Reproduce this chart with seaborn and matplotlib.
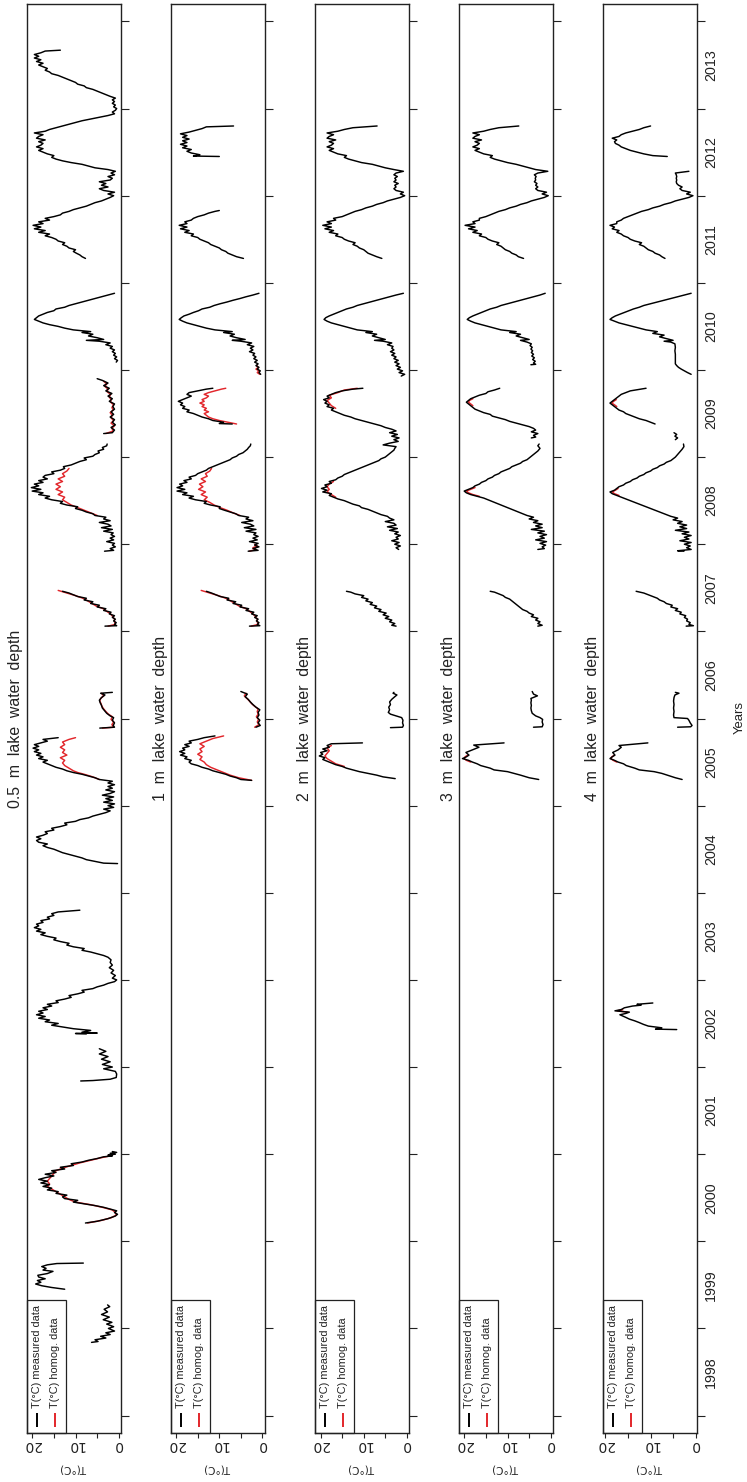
import numpy as np
import pandas as pd
import matplotlib
matplotlib.use("Agg")
import matplotlib.pyplot as plt
import seaborn as sns
from matplotlib import font_manager
from matplotlib.patches import Rectangle

# ---------------------------------------------------------------- labels
depth_titles = ["0.5  m  lake  water  depth", "1  m  lake  water  depth",
                "2  m  lake  water  depth", "3  m  lake  water  depth",
                "4  m  lake  water  depth"]
year_ticks = list(range(1998, 2015))
year_labels = [str(y) for y in range(1998, 2014)]
temp_ticks = [0, 5, 10, 15, 20]
temp_labels = ["0", "", "10", "", "20"]
series_names = ["T(°C) measured data", "T(°C) homog. data"]

# ---------------------------------------------------------------- 0.5 m
meas_05 = [
    [(1998.84, 6.3), (1998.85, 4.8), (1998.87, 5.5), (1998.89, 3.0), (1998.91, 4.2), (1998.93, 2.0),
     (1998.95, 3.0), (1998.97, 1.0), (1999.00, 2.4), (1999.02, 1.2), (1999.05, 2.8), (1999.07, 1.6),
     (1999.10, 3.6), (1999.13, 2.2), (1999.16, 4.0), (1999.19, 2.6), (1999.22, 3.4), (1999.25, 2.1),
     (1999.27, 2.6)],
    [(1999.45, 12.5), (1999.47, 15.5), (1999.49, 17.8), (1999.51, 19.2), (1999.53, 18.0), (1999.55, 18.8),
     (1999.57, 17.0), (1999.59, 18.5), (1999.61, 18.7), (1999.63, 16.5), (1999.655, 15.2), (1999.67, 17.5),
     (1999.69, 16.8), (1999.71, 17.8), (1999.73, 16.5), (1999.745, 14.3), (1999.75, 8.2)],
    [(2000.21, 7.7), (2000.23, 5.0), (2000.26, 2.5), (2000.29, 0.8), (2000.31, 0.3), (2000.33, 1.0),
     (2000.35, 0.5), (2000.37, 2.0), (2000.39, 3.5), (2000.41, 5.5), (2000.43, 8.0), (2000.45, 10.5),
     (2000.47, 9.5), (2000.49, 12.5), (2000.51, 13.0), (2000.53, 12.0), (2000.55, 14.5), (2000.57, 14.0),
     (2000.59, 16.5), (2000.61, 15.5), (2000.63, 17.5), (2000.65, 16.0), (2000.67, 18.0), (2000.69, 16.5),
     (2000.71, 18.5), (2000.73, 17.0), (2000.75, 15.0), (2000.77, 17.0), (2000.79, 14.5), (2000.81, 15.5),
     (2000.83, 12.5), (2000.85, 13.5), (2000.87, 10.5), (2000.89, 11.0), (2000.91, 8.5), (2000.93, 7.0),
     (2000.95, 5.0), (2000.97, 3.5), (2000.98, 1.5), (2000.99, 2.5), (2001.00, 0.8), (2001.01, 2.0),
     (2001.02, 0.5), (2001.03, 1.5)],
    [(2001.84, 8.8), (2001.845, 6.0), (2001.86, 2.0), (2001.88, 0.6), (2001.92, 0.5), (2001.95, 0.8),
     (2001.98, 3.5), (2002.00, 1.5), (2002.03, 3.8), (2002.06, 2.0), (2002.09, 4.0), (2002.12, 2.5),
     (2002.15, 4.5), (2002.18, 3.0), (2002.21, 4.5)],
    [(2002.38, 7.5), (2002.385, 10.0), (2002.39, 5.0), (2002.40, 8.5), (2002.42, 6.5), (2002.44, 10.5),
     (2002.46, 13.0), (2002.48, 15.5), (2002.50, 14.0), (2002.52, 17.0), (2002.54, 16.0), (2002.56, 18.5),
     (2002.58, 17.0), (2002.60, 19.0), (2002.62, 17.5), (2002.64, 18.5), (2002.66, 16.5), (2002.68, 17.5),
     (2002.70, 15.5), (2002.72, 16.5), (2002.74, 14.0), (2002.76, 14.5), (2002.78, 12.5), (2002.80, 11.0),
     (2002.82, 11.5), (2002.84, 9.5), (2002.86, 8.0), (2002.88, 8.5), (2002.90, 6.0), (2002.92, 5.0),
     (2002.94, 3.5), (2002.96, 2.5), (2002.98, 1.0), (2003.00, 0.5), (2003.02, 1.5), (2003.05, 0.8),
     (2003.08, 1.8), (2003.11, 1.2), (2003.14, 2.2), (2003.17, 1.5), (2003.20, 2.0), (2003.23, 1.8),
     (2003.26, 2.5), (2003.28, 3.5), (2003.30, 5.0), (2003.32, 6.5), (2003.34, 8.5), (2003.36, 8.0),
     (2003.38, 10.5), (2003.40, 12.0), (2003.42, 11.5), (2003.44, 13.5), (2003.46, 15.0), (2003.48, 14.5),
     (2003.50, 16.5), (2003.52, 18.0), (2003.54, 17.0), (2003.56, 19.0), (2003.58, 18.0), (2003.60, 19.5),
     (2003.62, 18.5), (2003.64, 19.0), (2003.66, 17.5), (2003.68, 18.0), (2003.70, 16.0), (2003.72, 16.5),
     (2003.74, 15.0), (2003.76, 15.5), (2003.78, 14.0), (2003.80, 9.0)],
    [(2004.335, 0.3), (2004.34, 3.5), (2004.36, 5.5), (2004.38, 7.5), (2004.40, 8.5), (2004.42, 10.0),
     (2004.44, 11.5), (2004.46, 13.0), (2004.48, 14.0), (2004.50, 15.0), (2004.52, 16.5), (2004.54, 17.5),
     (2004.56, 16.5), (2004.58, 18.5), (2004.60, 19.0), (2004.62, 18.0), (2004.64, 19.0), (2004.66, 17.5),
     (2004.68, 16.5), (2004.70, 17.0), (2004.72, 15.0), (2004.74, 15.5), (2004.76, 13.5), (2004.78, 12.0),
     (2004.80, 12.5), (2004.82, 10.0), (2004.84, 9.0), (2004.86, 7.0), (2004.88, 6.0), (2004.90, 4.5),
     (2004.92, 3.0), (2004.94, 2.0), (2004.96, 3.5), (2004.98, 1.2), (2005.00, 2.5), (2005.02, 1.0),
     (2005.04, 3.5), (2005.06, 1.5), (2005.08, 3.0), (2005.10, 1.2), (2005.12, 3.8), (2005.14, 2.0),
     (2005.16, 1.0), (2005.18, 3.0), (2005.20, 1.5), (2005.22, 2.5), (2005.24, 1.0), (2005.26, 2.5),
     (2005.28, 1.5), (2005.30, 4.5), (2005.32, 5.5), (2005.34, 7.0), (2005.36, 8.5), (2005.38, 10.5),
     (2005.40, 12.0), (2005.42, 13.0), (2005.44, 14.5), (2005.46, 15.5), (2005.48, 16.5), (2005.50, 17.5),
     (2005.52, 16.5), (2005.54, 18.5), (2005.56, 17.5), (2005.58, 19.0), (2005.60, 18.0), (2005.62, 19.5),
     (2005.64, 18.5), (2005.66, 19.8), (2005.68, 18.5), (2005.70, 19.5), (2005.72, 18.0), (2005.74, 16.5),
     (2005.76, 17.5), (2005.78, 14.0)],
    [(2005.89, 4.4), (2005.90, 1.0), (2005.92, 1.3), (2005.95, 1.0), (2005.98, 1.5), (2006.01, 1.2),
     (2006.03, 2.0), (2006.06, 2.8), (2006.09, 3.3), (2006.12, 3.8), (2006.15, 4.0), (2006.18, 4.3),
     (2006.21, 4.5), (2006.24, 4.0), (2006.27, 3.2), (2006.29, 4.2), (2006.30, 1.5)],
    [(2007.06, 3.2), (2007.065, 0.5), (2007.08, 1.0), (2007.10, 0.6), (2007.12, 1.2), (2007.14, 0.8),
     (2007.16, 1.5), (2007.18, 1.0), (2007.20, 2.2), (2007.22, 1.8), (2007.24, 3.5), (2007.26, 3.0),
     (2007.28, 5.0), (2007.30, 4.5), (2007.32, 6.5), (2007.34, 6.0), (2007.36, 8.0), (2007.38, 7.5),
     (2007.40, 9.5), (2007.42, 10.5), (2007.44, 11.5), (2007.46, 13.0)],
    [(2007.92, 3.3), (2007.93, 1.2), (2007.95, 2.0), (2007.97, 0.8), (2007.99, 1.5), (2008.01, 1.0),
     (2008.03, 2.8), (2008.05, 1.2), (2008.07, 2.0), (2008.09, 1.0), (2008.11, 1.8), (2008.13, 1.3),
     (2008.15, 3.5), (2008.17, 1.5), (2008.19, 4.0), (2008.21, 1.8), (2008.23, 2.5), (2008.25, 4.5),
     (2008.27, 2.0), (2008.29, 3.5), (2008.31, 3.0), (2008.33, 5.5), (2008.35, 6.0), (2008.37, 7.5),
     (2008.39, 8.5), (2008.41, 10.0), (2008.43, 9.5), (2008.45, 12.0), (2008.47, 13.5), (2008.49, 13.0),
     (2008.51, 15.5), (2008.53, 17.0), (2008.55, 16.0), (2008.57, 18.5), (2008.59, 17.5), (2008.61, 20.0),
     (2008.63, 18.0), (2008.65, 20.2), (2008.67, 18.5), (2008.69, 19.5), (2008.71, 17.5), (2008.73, 18.5),
     (2008.75, 16.5), (2008.77, 17.5), (2008.79, 17.0), (2008.81, 15.0), (2008.83, 15.5), (2008.85, 13.5),
     (2008.87, 12.5), (2008.89, 12.8), (2008.91, 11.0), (2008.93, 10.0), (2008.95, 9.0), (2008.97, 7.5),
     (2008.99, 8.0), (2009.01, 6.0), (2009.03, 5.5), (2009.05, 4.5), (2009.07, 4.8), (2009.09, 3.5),
     (2009.11, 3.8), (2009.13, 2.8), (2009.15, 2.7)],
    [(2009.27, 3.5), (2009.28, 1.5), (2009.31, 1.0), (2009.34, 1.8), (2009.37, 0.8), (2009.40, 1.5),
     (2009.43, 1.0), (2009.46, 2.0), (2009.49, 1.2), (2009.52, 1.8), (2009.55, 1.0), (2009.58, 1.4),
     (2009.61, 1.0), (2009.64, 2.2), (2009.67, 1.5), (2009.70, 2.5), (2009.73, 1.6), (2009.76, 3.0),
     (2009.79, 2.2), (2009.82, 3.5), (2009.85, 2.5), (2009.88, 3.8), (2009.90, 5.0)],
    [(2010.09, 0.6), (2010.11, 0.3), (2010.13, 1.0), (2010.15, 0.5), (2010.17, 1.2), (2010.19, 0.8),
     (2010.21, 1.5), (2010.23, 1.0), (2010.25, 2.0), (2010.27, 1.5), (2010.29, 3.0), (2010.31, 2.0),
     (2010.33, 4.5), (2010.34, 7.5), (2010.35, 3.5), (2010.37, 5.0), (2010.39, 7.0), (2010.41, 6.0),
     (2010.43, 8.5), (2010.44, 6.5), (2010.46, 10.5), (2010.48, 12.5), (2010.50, 14.0), (2010.52, 16.0),
     (2010.54, 17.5), (2010.56, 18.5), (2010.58, 19.5), (2010.60, 19.0), (2010.62, 18.5), (2010.64, 17.5),
     (2010.66, 16.5), (2010.68, 15.0), (2010.70, 14.5), (2010.72, 12.5), (2010.74, 11.5), (2010.76, 10.0),
     (2010.78, 8.5), (2010.80, 7.0), (2010.82, 5.5), (2010.84, 4.0), (2010.86, 2.5), (2010.88, 1.0)],
    [(2011.28, 7.7), (2011.30, 8.5), (2011.32, 9.0), (2011.34, 9.8), (2011.36, 10.5), (2011.38, 10.0),
     (2011.40, 11.5), (2011.42, 12.0), (2011.44, 13.0), (2011.46, 12.5), (2011.48, 14.0), (2011.50, 14.5),
     (2011.52, 15.5), (2011.54, 17.0), (2011.56, 16.0), (2011.58, 18.5), (2011.60, 17.0), (2011.62, 19.5),
     (2011.64, 18.0), (2011.66, 19.8), (2011.68, 17.5), (2011.70, 18.5), (2011.72, 16.0), (2011.74, 17.0),
     (2011.76, 15.0), (2011.78, 13.5), (2011.80, 13.0), (2011.82, 11.5), (2011.84, 10.5), (2011.86, 9.0),
     (2011.88, 7.5), (2011.90, 6.5), (2011.92, 5.5), (2011.94, 4.0), (2011.96, 3.0), (2011.98, 2.0),
     (2012.00, 1.2), (2012.02, 2.5), (2012.04, 1.0), (2012.06, 3.5), (2012.08, 4.5), (2012.10, 2.5),
     (2012.12, 4.0), (2012.14, 3.0), (2012.16, 4.5), (2012.18, 2.0), (2012.20, 1.5), (2012.22, 2.5),
     (2012.24, 1.0), (2012.26, 1.8), (2012.28, 0.8), (2012.30, 2.5), (2012.32, 5.5), (2012.34, 7.0),
     (2012.36, 8.5), (2012.38, 11.0), (2012.40, 13.0), (2012.42, 14.5), (2012.44, 15.5), (2012.46, 15.0),
     (2012.48, 16.5), (2012.50, 17.5), (2012.52, 18.5), (2012.54, 17.5), (2012.56, 19.0), (2012.58, 18.0),
     (2012.60, 17.5), (2012.62, 18.5), (2012.64, 17.0), (2012.66, 19.0), (2012.68, 18.5), (2012.70, 17.5),
     (2012.72, 19.5), (2012.74, 17.0), (2012.76, 16.0), (2012.78, 14.5), (2012.80, 13.0), (2012.82, 11.5),
     (2012.84, 10.0), (2012.86, 8.5), (2012.88, 6.5), (2012.90, 4.5), (2012.92, 2.5), (2012.94, 1.0),
     (2012.96, 1.5), (2012.98, 0.8), (2013.00, 0.5), (2013.02, 1.2), (2013.04, 0.8), (2013.06, 1.5),
     (2013.08, 1.0), (2013.10, 1.5), (2013.12, 0.8), (2013.14, 2.0), (2013.16, 3.0), (2013.18, 4.0),
     (2013.20, 5.0), (2013.22, 6.0), (2013.24, 7.5), (2013.26, 8.0), (2013.28, 9.5), (2013.30, 10.0),
     (2013.32, 11.0), (2013.34, 12.0), (2013.36, 13.0), (2013.38, 14.0), (2013.40, 15.5), (2013.42, 16.0),
     (2013.44, 17.0), (2013.46, 16.5), (2013.48, 17.5), (2013.50, 18.5), (2013.52, 17.5), (2013.54, 19.0),
     (2013.56, 18.0), (2013.58, 19.5), (2013.60, 18.5), (2013.62, 19.5), (2013.64, 18.0), (2013.66, 17.0),
     (2013.67, 13.5)],
]
homog_05 = [
    [(2000.21, 7.2), (2000.24, 4.0), (2000.27, 1.8), (2000.30, 0.6), (2000.33, 0.8), (2000.36, 1.5),
     (2000.39, 3.8), (2000.42, 6.5), (2000.45, 10.0), (2000.48, 11.5), (2000.51, 12.5), (2000.54, 13.5),
     (2000.57, 14.5), (2000.60, 15.5), (2000.63, 16.5), (2000.66, 16.0), (2000.69, 16.5), (2000.72, 16.0),
     (2000.75, 15.5), (2000.78, 15.0), (2000.81, 14.5), (2000.84, 13.0), (2000.87, 11.0), (2000.90, 9.0),
     (2000.93, 6.5), (2000.96, 4.0), (2000.98, 2.0), (2001.00, 1.2), (2001.02, 1.0)],
    [(2005.30, 4.5), (2005.33, 6.0), (2005.36, 8.0), (2005.38, 9.5), (2005.40, 10.5), (2005.43, 11.5),
     (2005.46, 12.5), (2005.49, 13.0), (2005.52, 12.5), (2005.55, 13.5), (2005.58, 12.0), (2005.61, 13.0),
     (2005.64, 12.5), (2005.67, 13.5), (2005.70, 12.5), (2005.73, 13.0), (2005.76, 11.5), (2005.78, 10.0)],
    [(2005.89, 3.8), (2005.90, 1.2), (2005.93, 1.6), (2005.96, 1.2), (2005.99, 1.8), (2006.02, 1.5),
     (2006.05, 2.4), (2006.08, 3.0), (2006.11, 3.5), (2006.14, 3.9), (2006.17, 4.1), (2006.20, 4.4),
     (2006.23, 4.2), (2006.26, 3.5), (2006.29, 4.0)],
    [(2007.06, 2.5), (2007.08, 0.8), (2007.11, 1.0), (2007.14, 1.0), (2007.17, 1.4), (2007.20, 1.9),
     (2007.23, 2.8), (2007.26, 3.6), (2007.29, 5.2), (2007.32, 6.2), (2007.35, 7.2), (2007.38, 8.3),
     (2007.41, 10.0), (2007.44, 12.0), (2007.47, 14.0)],
    [(2008.33, 5.0), (2008.36, 6.5), (2008.39, 8.0), (2008.42, 9.5), (2008.45, 11.0), (2008.48, 12.0),
     (2008.51, 13.0), (2008.54, 12.5), (2008.57, 14.0), (2008.60, 13.0), (2008.63, 14.5), (2008.66, 13.5),
     (2008.69, 14.5), (2008.72, 13.0), (2008.75, 14.0), (2008.78, 12.5), (2008.81, 13.0), (2008.84, 12.0),
     (2008.87, 11.5)],
    [(2009.27, 3.0), (2009.30, 1.3), (2009.33, 1.6), (2009.36, 1.0), (2009.39, 1.8), (2009.42, 1.2),
     (2009.45, 1.8), (2009.48, 1.5), (2009.51, 2.0), (2009.54, 1.3), (2009.57, 1.6), (2009.60, 1.2),
     (2009.63, 1.9), (2009.66, 1.8), (2009.69, 2.2), (2009.72, 1.9), (2009.75, 2.7), (2009.78, 2.5),
     (2009.81, 3.2), (2009.84, 2.8), (2009.87, 3.5)],
]

# ---------------------------------------------------------------- 1 m
meas_1 = [
    [(2005.29, 2.5), (2005.30, 5.0), (2005.32, 6.0), (2005.34, 7.5), (2005.36, 8.5), (2005.38, 10.0),
     (2005.40, 11.5), (2005.42, 12.5), (2005.44, 14.0), (2005.46, 15.0), (2005.48, 16.5), (2005.50, 17.0),
     (2005.52, 16.5), (2005.54, 18.0), (2005.56, 17.5), (2005.58, 19.0), (2005.60, 18.0), (2005.62, 19.2),
     (2005.64, 18.0), (2005.66, 18.5), (2005.68, 17.0), (2005.70, 18.0), (2005.72, 16.5), (2005.74, 17.0),
     (2005.76, 15.0), (2005.78, 13.5), (2005.80, 11.0)],
    [(2005.90, 1.5), (2005.92, 0.5), (2005.95, 1.0), (2005.98, 0.6), (2006.01, 1.2), (2006.04, 0.8),
     (2006.07, 1.0), (2006.10, 0.6), (2006.13, 1.5), (2006.16, 2.2), (2006.19, 2.8), (2006.22, 3.3),
     (2006.25, 4.0), (2006.28, 3.5), (2006.31, 5.0)],
    [(2007.06, 3.0), (2007.065, 0.6), (2007.08, 1.2), (2007.10, 0.8), (2007.12, 1.4), (2007.14, 1.0),
     (2007.16, 1.8), (2007.18, 1.2), (2007.20, 2.5), (2007.22, 2.0), (2007.24, 3.8), (2007.26, 3.2),
     (2007.28, 5.2), (2007.30, 4.8), (2007.32, 6.8), (2007.34, 6.2), (2007.36, 8.2), (2007.38, 7.8),
     (2007.40, 9.8), (2007.42, 10.8), (2007.44, 11.8), (2007.46, 13.0)],
    [(2007.92, 3.3), (2007.93, 1.0), (2007.95, 2.2), (2007.97, 0.8), (2007.99, 1.8), (2008.01, 1.0),
     (2008.03, 3.0), (2008.05, 1.2), (2008.07, 2.2), (2008.09, 1.0), (2008.11, 2.0), (2008.13, 1.5),
     (2008.15, 3.8), (2008.17, 1.5), (2008.19, 4.2), (2008.21, 2.0), (2008.23, 2.8), (2008.25, 4.8),
     (2008.27, 2.2), (2008.29, 3.8), (2008.31, 3.2), (2008.33, 5.5), (2008.35, 6.2), (2008.37, 7.5),
     (2008.39, 8.8), (2008.41, 10.0), (2008.43, 9.8), (2008.45, 12.0), (2008.47, 13.5), (2008.49, 13.0),
     (2008.51, 15.5), (2008.53, 17.0), (2008.55, 16.0), (2008.57, 18.5), (2008.59, 17.5), (2008.61, 19.8),
     (2008.63, 18.0), (2008.65, 19.8), (2008.67, 18.5), (2008.69, 19.2), (2008.71, 17.5), (2008.73, 18.2),
     (2008.75, 16.5), (2008.77, 17.0), (2008.79, 15.5), (2008.81, 15.0), (2008.83, 14.0), (2008.85, 13.0),
     (2008.87, 12.5), (2008.89, 11.5), (2008.91, 10.5), (2008.93, 9.5), (2008.95, 8.5), (2008.97, 7.5),
     (2008.99, 7.0), (2009.01, 6.0), (2009.03, 5.5), (2009.05, 4.5), (2009.07, 4.0), (2009.09, 3.5),
     (2009.11, 3.2), (2009.13, 2.8), (2009.15, 2.7)],
    [(2009.38, 7.0), (2009.385, 10.0), (2009.40, 9.0), (2009.42, 11.5), (2009.44, 12.5), (2009.46, 14.0),
     (2009.48, 15.0), (2009.50, 16.0), (2009.52, 17.5), (2009.54, 17.0), (2009.56, 18.5), (2009.58, 18.0),
     (2009.60, 19.0), (2009.62, 18.5), (2009.64, 19.5), (2009.66, 18.5), (2009.68, 17.5), (2009.70, 16.5),
     (2009.72, 17.5), (2009.74, 17.0), (2009.76, 15.0), (2009.78, 13.0), (2009.79, 11.5)],
    [(2009.95, 0.4), (2009.97, 0.8), (2009.99, 0.5), (2010.01, 1.2), (2010.03, 0.8), (2010.05, 1.5),
     (2010.07, 1.0), (2010.09, 1.8), (2010.11, 1.2), (2010.13, 2.0), (2010.15, 1.5), (2010.17, 2.2),
     (2010.19, 1.8), (2010.21, 3.0), (2010.23, 2.2), (2010.25, 2.8), (2010.27, 2.0), (2010.29, 3.5),
     (2010.31, 2.5), (2010.33, 5.0), (2010.34, 7.0), (2010.35, 4.0), (2010.37, 6.0), (2010.39, 7.5),
     (2010.41, 6.5), (2010.43, 9.0), (2010.44, 7.0), (2010.46, 11.0), (2010.48, 13.0), (2010.50, 14.5),
     (2010.52, 16.0), (2010.54, 17.5), (2010.56, 18.5), (2010.58, 19.3), (2010.60, 18.8), (2010.62, 18.2),
     (2010.64, 17.0), (2010.66, 16.0), (2010.68, 14.8), (2010.70, 14.0), (2010.72, 12.2), (2010.74, 11.2),
     (2010.76, 9.8), (2010.78, 8.2), (2010.80, 6.8), (2010.82, 5.2), (2010.84, 3.8), (2010.86, 2.2),
     (2010.88, 0.8)],
    [(2011.28, 4.4), (2011.30, 6.0), (2011.32, 7.0), (2011.34, 8.0), (2011.36, 8.5), (2011.38, 9.5),
     (2011.40, 10.0), (2011.42, 11.0), (2011.44, 12.0), (2011.46, 12.5), (2011.48, 13.5), (2011.50, 14.5),
     (2011.52, 15.0), (2011.54, 16.5), (2011.56, 16.0), (2011.58, 18.0), (2011.60, 17.0), (2011.62, 19.0),
     (2011.64, 17.5), (2011.66, 19.3), (2011.68, 17.5), (2011.70, 18.0), (2011.72, 16.5), (2011.74, 16.0),
     (2011.76, 15.0), (2011.78, 13.5), (2011.80, 12.5), (2011.82, 11.0), (2011.83, 10.0)],
    [(2012.45, 10.0), (2012.455, 16.0), (2012.47, 14.5), (2012.49, 16.5), (2012.51, 17.5), (2012.53, 16.5),
     (2012.55, 18.5), (2012.57, 17.5), (2012.59, 19.0), (2012.61, 17.5), (2012.63, 18.5), (2012.65, 17.0),
     (2012.67, 18.5), (2012.69, 17.5), (2012.71, 19.0), (2012.73, 17.0), (2012.75, 15.5), (2012.77, 14.0),
     (2012.79, 13.0), (2012.80, 6.7)],
]
homog_1 = [
    [(2005.29, 2.5), (2005.32, 5.5), (2005.35, 7.5), (2005.38, 9.0), (2005.41, 10.5), (2005.44, 12.0),
     (2005.47, 13.0), (2005.50, 13.5), (2005.53, 14.5), (2005.56, 14.0), (2005.59, 15.0), (2005.62, 14.0),
     (2005.65, 14.5), (2005.68, 13.5), (2005.71, 14.5), (2005.74, 13.0), (2005.77, 11.5), (2005.80, 9.0)],
    [(2005.90, 1.8), (2005.93, 0.8), (2005.96, 1.2), (2005.99, 0.9), (2006.02, 1.4), (2006.05, 1.0),
     (2006.08, 1.2), (2006.11, 1.0), (2006.14, 1.8), (2006.17, 2.5), (2006.20, 3.0), (2006.23, 3.6),
     (2006.26, 4.2), (2006.29, 3.8)],
    [(2007.06, 2.6), (2007.08, 1.0), (2007.11, 1.2), (2007.14, 1.2), (2007.17, 1.6), (2007.20, 2.2),
     (2007.23, 3.0), (2007.26, 3.8), (2007.29, 5.4), (2007.32, 6.4), (2007.35, 7.4), (2007.38, 8.5),
     (2007.41, 10.2), (2007.44, 12.2), (2007.47, 14.2)],
    [(2007.92, 3.0), (2007.94, 1.5), (2007.96, 2.2), (2007.98, 1.2), (2008.00, 1.8)],
    [(2008.33, 5.2), (2008.36, 6.8), (2008.39, 8.2), (2008.42, 9.8), (2008.45, 11.2), (2008.48, 12.2),
     (2008.51, 13.5), (2008.54, 12.8), (2008.57, 14.2), (2008.60, 13.2), (2008.63, 14.8), (2008.66, 13.8),
     (2008.69, 14.6), (2008.72, 13.2), (2008.75, 14.2), (2008.78, 12.8), (2008.81, 13.2), (2008.84, 12.2),
     (2008.87, 11.8)],
    [(2009.38, 6.0), (2009.40, 8.0), (2009.42, 10.0), (2009.44, 11.5), (2009.46, 12.5), (2009.48, 13.0),
     (2009.50, 13.5), (2009.52, 12.5), (2009.54, 13.5), (2009.56, 13.0), (2009.58, 14.0), (2009.60, 13.5),
     (2009.62, 14.5), (2009.64, 13.5), (2009.66, 14.0), (2009.68, 13.0), (2009.70, 12.5), (2009.72, 13.5),
     (2009.74, 12.5), (2009.76, 11.0), (2009.78, 9.5), (2009.79, 8.5)],
    [(2009.95, 0.6), (2009.97, 1.2), (2009.99, 0.8), (2010.01, 1.5), (2010.03, 1.0), (2010.05, 1.3)],
]

# ---------------------------------------------------------------- 2 m
meas_2 = [
    [(2005.31, 2.7), (2005.33, 5.5), (2005.35, 7.0), (2005.37, 9.0), (2005.39, 11.0), (2005.41, 12.5),
     (2005.43, 14.0), (2005.45, 15.0), (2005.47, 16.5), (2005.49, 17.5), (2005.51, 18.5), (2005.53, 19.5),
     (2005.55, 19.0), (2005.57, 20.3), (2005.59, 19.5), (2005.61, 20.0), (2005.63, 18.5), (2005.65, 19.5),
     (2005.67, 18.0), (2005.69, 18.5), (2005.71, 17.5), (2005.72, 10.3)],
    [(2005.895, 3.8), (2005.90, 1.0), (2005.92, 0.8), (2005.95, 1.0), (2005.98, 0.9), (2006.01, 1.2),
     (2006.03, 2.5), (2006.05, 3.8), (2006.07, 4.3), (2006.10, 4.0), (2006.13, 4.2), (2006.16, 3.8),
     (2006.19, 4.0), (2006.22, 3.5), (2006.25, 2.8), (2006.27, 2.3), (2006.29, 3.2), (2006.30, 3.0)],
    [(2007.06, 2.5), (2007.07, 3.5), (2007.09, 2.8), (2007.11, 4.0), (2007.13, 3.5), (2007.15, 5.0),
     (2007.17, 4.2), (2007.19, 5.5), (2007.21, 4.8), (2007.23, 6.5), (2007.25, 6.0), (2007.27, 7.5),
     (2007.29, 7.0), (2007.31, 8.5), (2007.33, 8.0), (2007.35, 9.5), (2007.37, 9.0), (2007.39, 10.5),
     (2007.41, 10.0), (2007.43, 12.0), (2007.45, 13.0), (2007.46, 14.0)],
    [(2007.94, 1.9), (2007.96, 2.5), (2007.98, 1.5), (2008.00, 2.8), (2008.02, 1.8), (2008.04, 3.5),
     (2008.06, 2.0), (2008.08, 2.5), (2008.10, 1.5), (2008.12, 2.8), (2008.14, 2.0), (2008.16, 4.0),
     (2008.18, 2.2), (2008.20, 4.5), (2008.22, 2.5), (2008.24, 3.0), (2008.26, 5.0), (2008.28, 3.0),
     (2008.30, 4.0), (2008.32, 4.5), (2008.34, 6.0), (2008.36, 7.0), (2008.38, 8.0), (2008.40, 9.0),
     (2008.42, 10.5), (2008.44, 11.0), (2008.46, 12.5), (2008.48, 13.5), (2008.50, 14.5), (2008.52, 16.0),
     (2008.54, 17.0), (2008.56, 18.0), (2008.58, 17.5), (2008.60, 19.5), (2008.62, 18.5), (2008.64, 19.8),
     (2008.66, 18.5), (2008.68, 19.0), (2008.70, 17.5), (2008.72, 18.0), (2008.74, 16.5), (2008.76, 16.0),
     (2008.78, 15.0), (2008.80, 14.5), (2008.82, 13.5), (2008.84, 12.5), (2008.86, 11.5), (2008.88, 10.5),
     (2008.90, 9.5), (2008.92, 8.5), (2008.94, 7.5), (2008.96, 6.5), (2008.98, 6.0), (2009.00, 5.0),
     (2009.02, 4.5), (2009.04, 4.0), (2009.06, 3.5), (2009.08, 3.0), (2009.10, 2.8), (2009.12, 2.5),
     (2009.14, 5.5), (2009.16, 4.0), (2009.18, 2.0), (2009.20, 3.0), (2009.22, 1.8), (2009.24, 3.5),
     (2009.26, 2.2), (2009.28, 4.0), (2009.30, 2.5), (2009.32, 3.5), (2009.34, 5.0), (2009.36, 6.0),
     (2009.38, 7.5), (2009.40, 9.0), (2009.42, 10.5), (2009.44, 12.0), (2009.46, 13.0), (2009.48, 14.5),
     (2009.50, 15.5), (2009.52, 16.5), (2009.54, 17.5), (2009.56, 17.0), (2009.58, 18.5), (2009.60, 18.0),
     (2009.62, 19.0), (2009.64, 18.5), (2009.66, 19.3), (2009.68, 18.0), (2009.70, 18.5), (2009.72, 17.5),
     (2009.74, 16.5), (2009.76, 15.0), (2009.78, 12.5), (2009.79, 10.2)],
    [(2009.93, 1.3), (2009.95, 0.5), (2009.97, 1.8), (2009.99, 1.0), (2010.01, 2.2), (2010.03, 1.5),
     (2010.05, 2.5), (2010.07, 1.8), (2010.09, 2.8), (2010.11, 2.0), (2010.13, 3.0), (2010.15, 2.5),
     (2010.17, 3.5), (2010.19, 2.8), (2010.21, 3.8), (2010.23, 3.0), (2010.25, 3.5), (2010.27, 3.2),
     (2010.29, 4.5), (2010.31, 3.5), (2010.33, 5.5), (2010.34, 7.5), (2010.35, 5.0), (2010.37, 6.5),
     (2010.39, 8.0), (2010.41, 7.0), (2010.43, 9.5), (2010.44, 8.0), (2010.46, 11.5), (2010.48, 13.0),
     (2010.50, 14.5), (2010.52, 16.0), (2010.54, 17.5), (2010.56, 18.5), (2010.58, 19.2), (2010.60, 18.8),
     (2010.62, 18.0), (2010.64, 17.0), (2010.66, 16.0), (2010.68, 15.0), (2010.70, 14.0), (2010.72, 12.5),
     (2010.74, 11.5), (2010.76, 10.0), (2010.78, 8.5), (2010.80, 7.0), (2010.82, 5.5), (2010.84, 4.0),
     (2010.86, 2.5), (2010.88, 0.8)],
    [(2011.28, 5.8), (2011.30, 7.0), (2011.32, 8.0), (2011.34, 9.0), (2011.36, 9.5), (2011.38, 10.0),
     (2011.40, 11.0), (2011.42, 11.5), (2011.44, 12.5), (2011.46, 12.0), (2011.48, 13.5), (2011.50, 14.5),
     (2011.52, 15.0), (2011.54, 16.5), (2011.56, 16.0), (2011.58, 18.0), (2011.60, 17.0), (2011.62, 19.0),
     (2011.64, 17.5), (2011.66, 19.5), (2011.68, 17.5), (2011.70, 18.5), (2011.72, 16.5), (2011.74, 17.0),
     (2011.76, 15.0), (2011.78, 14.0), (2011.80, 13.0), (2011.82, 12.0), (2011.84, 10.5), (2011.86, 9.5),
     (2011.88, 8.0), (2011.90, 7.0), (2011.92, 5.5), (2011.94, 4.5), (2011.96, 3.0), (2011.98, 1.5),
     (2012.00, 0.5), (2012.02, 1.5), (2012.04, 0.8), (2012.06, 2.5), (2012.08, 3.0), (2012.10, 2.5),
     (2012.12, 2.8), (2012.14, 2.0), (2012.16, 3.0), (2012.18, 2.5), (2012.20, 2.8), (2012.22, 2.2),
     (2012.24, 3.0), (2012.26, 2.5), (2012.28, 0.8), (2012.30, 3.0), (2012.32, 5.0), (2012.34, 6.5),
     (2012.36, 8.0), (2012.38, 10.5), (2012.40, 12.0), (2012.42, 13.5), (2012.44, 14.5), (2012.46, 14.0),
     (2012.48, 16.0), (2012.50, 17.0), (2012.52, 18.0), (2012.54, 17.0), (2012.56, 18.5), (2012.58, 17.5),
     (2012.60, 17.0), (2012.62, 18.0), (2012.64, 16.5), (2012.66, 18.5), (2012.68, 18.0), (2012.70, 17.0),
     (2012.72, 18.5), (2012.74, 16.0), (2012.76, 14.5), (2012.78, 12.5), (2012.80, 6.9)],
]
homog_2 = [
    [(2005.45, 14.5), (2005.48, 16.5), (2005.51, 17.5), (2005.54, 18.5), (2005.57, 19.0), (2005.60, 18.5),
     (2005.63, 18.0), (2005.66, 18.5), (2005.69, 17.5)],
    [(2008.54, 16.5), (2008.57, 17.5), (2008.60, 18.5), (2008.63, 18.0), (2008.66, 18.5), (2008.69, 18.0),
     (2008.72, 17.0)],
    [(2009.56, 16.5), (2009.59, 17.5), (2009.62, 18.0), (2009.65, 18.5), (2009.68, 17.5), (2009.71, 18.0),
     (2009.74, 16.0), (2009.77, 14.5), (2009.79, 11.5)],
]

# ---------------------------------------------------------------- 3 m
meas_3 = [
    [(2005.30, 2.8), (2005.32, 5.0), (2005.35, 7.0), (2005.37, 8.5), (2005.39, 10.0), (2005.41, 13.1),
     (2005.43, 14.0), (2005.46, 16.2), (2005.48, 17.0), (2005.50, 18.1), (2005.52, 19.0), (2005.54, 20.4),
     (2005.56, 19.5), (2005.58, 18.9), (2005.61, 19.6), (2005.64, 18.1), (2005.67, 16.6), (2005.695, 17.8),
     (2005.72, 10.8)],
    [(2005.90, 4.0), (2005.905, 2.0), (2005.93, 1.8), (2005.96, 2.0), (2005.99, 1.9), (2006.01, 2.5),
     (2006.03, 3.5), (2006.06, 4.3), (2006.09, 4.5), (2006.12, 4.6), (2006.15, 4.5), (2006.18, 4.6),
     (2006.21, 4.5), (2006.23, 4.6), (2006.26, 3.1), (2006.28, 4.0), (2006.31, 4.3)],
    [(2007.06, 3.0), (2007.07, 2.0), (2007.09, 3.0), (2007.11, 2.5), (2007.13, 3.5), (2007.15, 3.0),
     (2007.17, 4.5), (2007.19, 4.0), (2007.21, 5.0), (2007.23, 5.5), (2007.25, 6.5), (2007.27, 7.0),
     (2007.29, 7.5), (2007.31, 8.0), (2007.33, 8.5), (2007.35, 9.0), (2007.37, 9.5), (2007.39, 10.5),
     (2007.41, 11.0), (2007.43, 12.0), (2007.45, 13.0), (2007.46, 14.0)],
    [(2007.94, 3.0), (2007.95, 1.5), (2007.97, 2.0), (2007.99, 1.2), (2008.01, 2.5), (2008.03, 1.0),
     (2008.05, 3.5), (2008.07, 1.5), (2008.09, 2.5), (2008.11, 1.0), (2008.13, 3.0), (2008.15, 1.5),
     (2008.17, 4.5), (2008.19, 2.0), (2008.21, 3.5), (2008.23, 2.0), (2008.25, 4.0), (2008.27, 3.0),
     (2008.29, 5.0), (2008.31, 4.0), (2008.33, 5.5), (2008.35, 6.5), (2008.37, 7.5), (2008.39, 8.5),
     (2008.41, 9.5), (2008.43, 10.5), (2008.45, 11.5), (2008.47, 12.5), (2008.49, 13.5), (2008.51, 14.5),
     (2008.53, 15.5), (2008.55, 17.0), (2008.57, 18.5), (2008.59, 19.5), (2008.61, 20.0), (2008.63, 19.0),
     (2008.65, 18.0), (2008.67, 17.5), (2008.69, 16.5), (2008.71, 16.0), (2008.73, 15.0), (2008.75, 14.5),
     (2008.77, 13.5), (2008.79, 13.0), (2008.81, 12.0), (2008.83, 11.5), (2008.85, 10.5), (2008.87, 9.5),
     (2008.89, 9.0), (2008.91, 8.0), (2008.93, 7.0), (2008.95, 6.5), (2008.97, 5.5), (2008.99, 5.0),
     (2009.01, 4.5), (2009.03, 4.0), (2009.05, 3.5), (2009.07, 3.0), (2009.10, 2.5), (2009.13, 3.0),
     (2009.15, 2.7)],
    [(2009.22, 4.5), (2009.23, 3.5), (2009.25, 4.0), (2009.27, 3.0), (2009.29, 4.5), (2009.31, 3.5),
     (2009.33, 4.0), (2009.35, 5.0), (2009.37, 6.5), (2009.39, 8.0), (2009.41, 9.5), (2009.43, 10.5),
     (2009.45, 12.0), (2009.47, 13.5), (2009.49, 14.0), (2009.51, 15.5), (2009.53, 16.5), (2009.55, 17.5),
     (2009.57, 18.0), (2009.59, 18.5), (2009.61, 19.0), (2009.63, 19.5), (2009.65, 19.0), (2009.67, 18.5),
     (2009.69, 17.5), (2009.71, 16.5), (2009.73, 15.0), (2009.75, 14.5), (2009.77, 13.0), (2009.79, 11.8)],
    [(2010.06, 4.6), (2010.065, 3.5), (2010.08, 4.0), (2010.10, 3.6), (2010.12, 4.2), (2010.14, 3.8),
     (2010.16, 4.4), (2010.18, 4.0), (2010.20, 4.5), (2010.22, 4.2), (2010.24, 4.6), (2010.26, 4.3),
     (2010.28, 4.8), (2010.30, 4.5), (2010.32, 5.5), (2010.34, 7.0), (2010.35, 5.0), (2010.37, 6.5),
     (2010.39, 8.0), (2010.41, 7.0), (2010.43, 9.5), (2010.44, 8.0), (2010.46, 11.5), (2010.48, 13.0),
     (2010.50, 14.5), (2010.52, 16.0), (2010.54, 17.5), (2010.56, 18.5), (2010.58, 19.3), (2010.60, 18.8),
     (2010.62, 18.0), (2010.64, 17.0), (2010.66, 16.0), (2010.68, 15.0), (2010.70, 14.0), (2010.72, 12.5),
     (2010.74, 11.5), (2010.76, 10.0), (2010.78, 8.5), (2010.80, 7.0), (2010.82, 5.5), (2010.84, 4.0),
     (2010.86, 2.5), (2010.88, 1.3)],
    [(2011.28, 6.3), (2011.30, 7.5), (2011.32, 8.0), (2011.34, 9.0), (2011.36, 9.5), (2011.38, 10.5),
     (2011.40, 11.0), (2011.42, 11.5), (2011.44, 12.5), (2011.46, 12.0), (2011.48, 13.5), (2011.50, 14.5),
     (2011.52, 15.0), (2011.54, 16.5), (2011.56, 16.0), (2011.58, 18.0), (2011.60, 17.0), (2011.62, 19.0),
     (2011.64, 17.5), (2011.66, 19.8), (2011.68, 17.5), (2011.70, 18.0), (2011.72, 16.5), (2011.74, 16.5),
     (2011.76, 15.0), (2011.78, 14.0), (2011.80, 13.0), (2011.82, 12.0), (2011.84, 10.5), (2011.86, 9.5),
     (2011.88, 8.0), (2011.90, 7.0), (2011.92, 5.5), (2011.94, 4.5), (2011.96, 3.0), (2011.98, 1.5),
     (2012.00, 0.6), (2012.02, 2.0), (2012.04, 1.0), (2012.06, 3.0), (2012.08, 3.5), (2012.10, 3.0),
     (2012.12, 3.5), (2012.14, 3.2), (2012.16, 3.8), (2012.18, 3.5), (2012.20, 3.6), (2012.22, 3.4),
     (2012.24, 3.8), (2012.26, 3.0), (2012.28, 0.7), (2012.30, 3.5), (2012.32, 5.0), (2012.34, 6.5),
     (2012.36, 8.0), (2012.38, 10.0), (2012.40, 11.5), (2012.42, 13.0), (2012.44, 14.0), (2012.46, 13.5),
     (2012.48, 15.5), (2012.50, 16.5), (2012.52, 17.5), (2012.54, 16.5), (2012.56, 18.0), (2012.58, 17.0),
     (2012.60, 16.5), (2012.62, 17.5), (2012.64, 16.0), (2012.66, 18.0), (2012.68, 17.5), (2012.70, 16.5),
     (2012.72, 18.0), (2012.74, 15.5), (2012.76, 14.0), (2012.78, 12.0), (2012.80, 7.4)],
]
homog_3 = [
    [(2005.50, 18.5), (2005.52, 19.5), (2005.54, 20.0), (2005.56, 19.8), (2005.58, 19.2)],
    [(2008.55, 16.5), (2008.57, 18.0), (2008.59, 19.0), (2008.61, 19.5), (2008.63, 18.5), (2008.65, 17.5)],
    [(2009.59, 18.0), (2009.61, 18.5), (2009.63, 19.0), (2009.65, 18.8), (2009.67, 18.0)],
]

# ---------------------------------------------------------------- 4 m
meas_4 = [
    [(2002.43, 4.2), (2002.435, 8.9), (2002.45, 7.5), (2002.47, 10.5), (2002.49, 11.6), (2002.51, 12.5),
     (2002.53, 13.5), (2002.55, 14.7), (2002.57, 15.5), (2002.60, 16.8), (2002.615, 15.5), (2002.63, 14.7),
     (2002.645, 17.9), (2002.66, 16.5), (2002.68, 15.8), (2002.70, 14.0), (2002.71, 12.1), (2002.72, 13.0),
     (2002.735, 9.5)],
    [(2005.30, 3.0), (2005.32, 4.5), (2005.35, 6.3), (2005.37, 7.5), (2005.39, 9.2), (2005.41, 12.5),
     (2005.43, 13.5), (2005.46, 15.4), (2005.48, 16.0), (2005.50, 17.2), (2005.52, 18.0), (2005.54, 19.0),
     (2005.56, 18.5), (2005.58, 17.9), (2005.61, 18.4), (2005.64, 17.2), (2005.67, 16.5), (2005.69, 17.0),
     (2005.72, 10.6)],
    [(2005.90, 4.0), (2005.905, 1.1), (2005.92, 0.8), (2005.95, 1.2), (2005.98, 1.5), (2006.00, 1.8),
     (2006.01, 4.8), (2006.04, 4.9), (2006.08, 4.8), (2006.12, 4.9), (2006.16, 4.8), (2006.20, 4.9),
     (2006.24, 4.8), (2006.27, 4.6), (2006.29, 3.7), (2006.30, 4.5)],
    [(2007.06, 2.1), (2007.065, 0.5), (2007.08, 1.5), (2007.10, 1.2), (2007.12, 2.0), (2007.14, 1.8),
     (2007.16, 2.5), (2007.18, 2.2), (2007.20, 3.5), (2007.22, 3.2), (2007.24, 4.5), (2007.26, 4.0),
     (2007.28, 5.5), (2007.30, 5.2), (2007.32, 6.5), (2007.34, 7.0), (2007.36, 8.0), (2007.38, 8.5),
     (2007.40, 9.5), (2007.42, 10.5), (2007.44, 11.5), (2007.46, 13.2)],
    [(2007.92, 2.6), (2007.925, 4.0), (2007.94, 1.0), (2007.96, 2.0), (2007.98, 1.2), (2008.00, 2.5),
     (2008.02, 1.0), (2008.04, 3.5), (2008.06, 1.5), (2008.08, 2.5), (2008.10, 1.0), (2008.12, 3.0),
     (2008.14, 1.5), (2008.16, 4.5), (2008.18, 2.0), (2008.20, 3.5), (2008.22, 2.0), (2008.24, 4.0),
     (2008.26, 3.0), (2008.28, 5.0), (2008.30, 4.0), (2008.32, 5.5), (2008.34, 6.5), (2008.36, 7.5),
     (2008.38, 8.5), (2008.40, 9.5), (2008.42, 10.5), (2008.44, 11.5), (2008.46, 12.5), (2008.48, 13.5),
     (2008.50, 14.5), (2008.52, 15.5), (2008.54, 16.5), (2008.56, 17.5), (2008.58, 18.5), (2008.60, 19.0),
     (2008.62, 18.0), (2008.64, 17.5), (2008.66, 17.0), (2008.68, 16.0), (2008.70, 15.5), (2008.72, 14.5),
     (2008.74, 14.0), (2008.76, 13.0), (2008.78, 12.5), (2008.80, 11.5), (2008.82, 11.0), (2008.84, 10.0),
     (2008.86, 9.5), (2008.88, 8.5), (2008.90, 8.0), (2008.92, 7.0), (2008.94, 6.5), (2008.96, 5.5),
     (2008.98, 5.0), (2009.00, 4.5), (2009.03, 4.0), (2009.06, 3.5), (2009.09, 3.0), (2009.12, 2.6),
     (2009.15, 2.7)],
    [(2009.20, 4.5), (2009.22, 4.0), (2009.24, 4.6), (2009.26, 4.2), (2009.28, 4.8)],
    [(2009.38, 9.0), (2009.40, 10.0), (2009.42, 11.0), (2009.44, 12.5), (2009.46, 13.5), (2009.48, 14.5),
     (2009.50, 15.5), (2009.52, 16.0), (2009.54, 17.0), (2009.56, 17.5), (2009.58, 18.0), (2009.60, 18.5),
     (2009.62, 19.0), (2009.64, 18.5), (2009.66, 18.0), (2009.68, 17.5), (2009.70, 17.0), (2009.72, 16.5),
     (2009.74, 15.5), (2009.76, 14.5), (2009.79, 11.0)],
    [(2009.95, 1.0), (2009.97, 1.8), (2009.99, 2.5), (2010.01, 3.2), (2010.03, 3.8), (2010.05, 4.2),
     (2010.07, 4.5), (2010.10, 4.5), (2010.14, 4.5), (2010.18, 4.5), (2010.22, 4.6), (2010.26, 4.5),
     (2010.30, 4.6), (2010.32, 5.5), (2010.33, 7.0), (2010.34, 5.0), (2010.36, 6.5), (2010.38, 8.0),
     (2010.40, 7.0), (2010.42, 9.5), (2010.44, 8.5), (2010.46, 11.0), (2010.48, 12.5), (2010.50, 14.0),
     (2010.52, 15.5), (2010.54, 17.0), (2010.56, 18.0), (2010.58, 19.0), (2010.60, 18.5), (2010.62, 17.8),
     (2010.64, 16.8), (2010.66, 15.8), (2010.68, 14.8), (2010.70, 13.8), (2010.72, 12.5), (2010.74, 11.5),
     (2010.76, 10.0), (2010.78, 8.5), (2010.80, 7.0), (2010.82, 5.5), (2010.84, 4.0), (2010.86, 2.5),
     (2010.88, 1.0)],
    [(2011.28, 6.8), (2011.30, 7.5), (2011.32, 8.0), (2011.34, 9.0), (2011.36, 9.5), (2011.38, 10.5),
     (2011.40, 11.0), (2011.42, 11.5), (2011.44, 12.5), (2011.46, 12.0), (2011.48, 13.5), (2011.50, 14.5),
     (2011.52, 15.0), (2011.54, 16.0), (2011.56, 16.5), (2011.58, 17.5), (2011.60, 17.0), (2011.62, 18.5),
     (2011.64, 18.0), (2011.66, 19.0), (2011.68, 17.5), (2011.70, 17.5), (2011.72, 16.5), (2011.74, 16.0),
     (2011.76, 15.0), (2011.78, 14.0), (2011.80, 13.0), (2011.82, 12.0), (2011.84, 10.5), (2011.86, 9.5),
     (2011.88, 8.0), (2011.90, 7.0), (2011.92, 5.5), (2011.94, 4.5), (2011.96, 3.0), (2011.98, 1.5),
     (2012.00, 0.6), (2012.02, 2.0), (2012.04, 1.2), (2012.06, 3.0), (2012.08, 3.5), (2012.10, 3.0),
     (2012.12, 3.8), (2012.14, 4.2), (2012.16, 4.3), (2012.18, 4.2), (2012.20, 4.3), (2012.22, 4.2),
     (2012.24, 4.3), (2012.26, 4.5), (2012.28, 1.5)],
    [(2012.45, 6.3), (2012.46, 9.5), (2012.48, 11.5), (2012.50, 13.0), (2012.52, 14.5), (2012.54, 15.5),
     (2012.56, 16.5), (2012.58, 17.0), (2012.60, 17.8), (2012.62, 18.0), (2012.64, 17.5), (2012.66, 18.5),
     (2012.68, 17.0), (2012.70, 16.5), (2012.72, 15.5), (2012.74, 14.0), (2012.76, 12.5), (2012.78, 11.5),
     (2012.80, 10.0)],
]
homog_4 = [
    [(2002.63, 15.0), (2002.645, 17.4), (2002.66, 16.2)],
    [(2005.50, 17.5), (2005.52, 18.3), (2005.54, 18.8), (2005.56, 18.6), (2005.58, 18.0)],
    [(2008.56, 17.0), (2008.58, 18.0), (2008.60, 18.5), (2008.62, 17.8), (2008.64, 17.2)],
    [(2009.58, 17.5), (2009.60, 18.0), (2009.62, 18.6), (2009.64, 18.2), (2009.66, 17.6)],
]

# ---------------------------------------------------------------- assemble
panels = [(meas_05, homog_05), (meas_1, homog_1), (meas_2, homog_2),
          (meas_3, homog_3), (meas_4, homog_4)]
rows = []
for p, (meas, homog) in enumerate(panels):
    for name, segs in (("meas", meas), ("homog", homog)):
        for k, seg in enumerate(segs):
            for yr, t in seg:
                rows.append((p, name, f"{name}{k}", yr, t))
frame = pd.DataFrame(rows, columns=["panel", "series", "seg", "year", "temp"])

# ---------------------------------------------------------------- style
sns.set_theme(style="white")
plt.rcParams["font.family"] = ["Liberation Sans", "DejaVu Sans"]
names = {f.name for f in font_manager.fontManager.ttflist}
if "Liberation Sans Narrow" in names:
    NARROW, NS = "Liberation Sans Narrow", 1.0
else:
    NARROW, NS = "Liberation Sans", 0.82
RED = "#e2262b"

W, H = 747, 1482
AX_TOP, AX_BOT, AX_W = 4, 1433, 94
AX_H = AX_BOT - AX_TOP
xlims = [(21.2, -0.5), (21.2, -0.6), (21.3, -0.5), (21.2, -0.5), (20.55, -0.3)]

fig = plt.figure(figsize=(W / 100, H / 100), dpi=100)
fig.patch.set_facecolor("white")

for i in range(5):
    left_px = 27 + 144 * i
    ax = fig.add_axes([left_px / W, (H - AX_BOT) / H, AX_W / W, AX_H / H])
    d = frame[frame.panel == i]
    sns.lineplot(data=d[d.series == "homog"], x="temp", y="year", units="seg",
                 estimator=None, sort=False, color=RED, linewidth=1.05, ax=ax, legend=False)
    sns.lineplot(data=d[d.series == "meas"], x="temp", y="year", units="seg",
                 estimator=None, sort=False, color="black", linewidth=1.05, ax=ax, legend=False)
    ax.set_xlabel("")
    ax.set_ylabel("")
    ax.set_xlim(*xlims[i])
    ax.set_ylim(1997.8, 2014.2)

    for sp in ax.spines.values():
        sp.set_visible(True)
        sp.set_color("#222222")
        sp.set_linewidth(1.0)

    # temperature axis (bottom)
    ax.set_xticks(temp_ticks)
    ax.set_xticklabels(temp_labels, rotation=180, fontsize=10, family="DejaVu Sans")
    ax.tick_params(axis="x", which="major", direction="out", length=3.3, width=0.8,
                   pad=0.5, bottom=True, top=False, labelbottom=True, colors="#222222")
    ax.text(0.5, -35 / AX_H, "T(°C)", transform=ax.transAxes, rotation=180,
            ha="center", va="center", fontsize=7.5, family="DejaVu Sans", color="#222222")

    # time axis (right)
    ax.yaxis.tick_right()
    ax.set_yticks(year_ticks)
    ax.set_yticklabels([])
    ax.tick_params(axis="y", which="major", direction="out", length=5.4, width=0.8,
                   right=True, left=False, labelright=False, colors="#222222")
    if i == 4:
        ax.set_yticks([y + 0.5 for y in range(1998, 2014)], minor=True)
        ax.set_yticklabels(year_labels, minor=True)
        ax.tick_params(axis="y", which="minor", length=0, pad=5.0, right=True,
                       left=False, labelright=True, labelsize=12.5 * NS, labelcolor="#222222")
        for lbl in ax.get_yticklabels(minor=True):
            lbl.set_rotation(90)
            lbl.set_va("center")
            lbl.set_family(NARROW)
    else:
        ax.tick_params(axis="y", which="minor", right=False, left=False)

    # legend box in the lower left corner
    ax.add_patch(Rectangle((0, 0), 39 / AX_W, (AX_BOT - 1300) / AX_H, transform=ax.transAxes,
                           fill=False, ec="#222222", lw=0.9, zorder=5, clip_on=False))
    for col, xk, label in ((("black", 10, series_names[0]), (RED, 28, series_names[1]))):
        ax.plot([xk / AX_W, xk / AX_W], [(AX_BOT - 1427) / AX_H, (AX_BOT - 1413) / AX_H],
                transform=ax.transAxes, color=col, lw=1.4, solid_capstyle="butt", zorder=6)
        ax.text(xk / AX_W, (AX_BOT - 1408) / AX_H, label, transform=ax.transAxes,
                rotation=90, ha="center", va="bottom", fontsize=9.7 * NS, family=NARROW,
                color="#222222", zorder=6)

    # panel title
    fig.text((16 + 144 * i) / W, 1 - 718.5 / H, depth_titles[i], rotation=90,
             ha="center", va="center", fontsize=14 * NS, family=NARROW, color="#222222")

fig.text(740 / W, 1 - 718 / H, "Years", rotation=90, ha="center", va="center",
         fontsize=11.5 * NS, family=NARROW, color="#222222")

fig.savefig("out.png", dpi=100, facecolor="white")
